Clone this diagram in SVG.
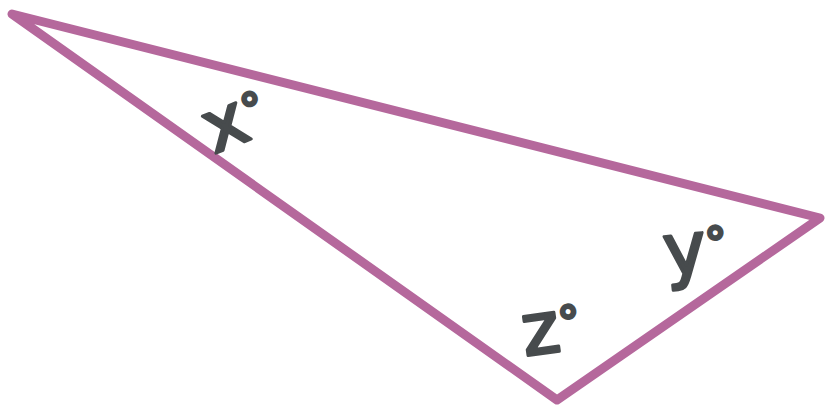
<svg xmlns="http://www.w3.org/2000/svg" width="829" height="413" viewBox="0 0 829 413">
<style>
.edge{fill:none;stroke:#b5689c;stroke-width:9;stroke-linejoin:round;stroke-linecap:round}
.lbl{font-family:"DejaVu Sans",sans-serif;font-size:72px;fill:#474b4d;stroke:#474b4d;stroke-width:3;stroke-linejoin:round}
.deg{font-size:44px}
</style>
<rect width="829" height="413" fill="#ffffff"/>
<g id="connectors">
<polygon class="edge" points="12,14 820,218 557,400"/>
</g>
<g id="label-x"><text class="lbl" x="0" y="0" transform="translate(214,154) rotate(-22)">x<tspan class="deg" dy="-12">°</tspan></text></g>
<g id="label-y"><text class="lbl" x="0" y="0" transform="translate(666,276) rotate(-6)">y<tspan class="deg" dy="-12">°</tspan></text></g>
<g id="label-z"><text class="lbl" x="0" y="0" transform="translate(525,356) rotate(-8)">z<tspan class="deg" dy="-12">°</tspan></text></g>
</svg>
